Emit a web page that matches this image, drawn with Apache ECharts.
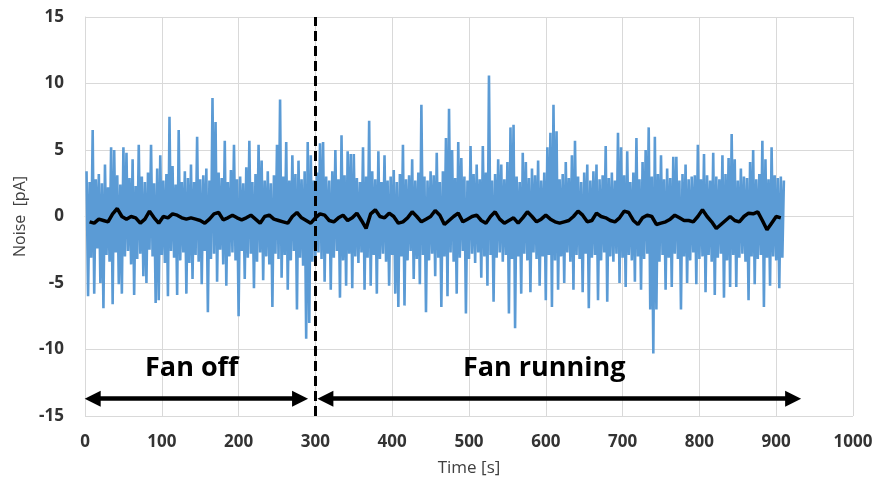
<!DOCTYPE html>
<html>
<head>
<meta charset="utf-8">
<script src="https://cdn.jsdelivr.net/npm/echarts@6/dist/echarts.min.js"></script>
<style>
  html, body { margin: 0; padding: 0; background: #ffffff; }
  #chart { width: 880px; height: 483px; }
</style>
</head>
<body>
<div id="chart"></div>
<script>
// Current noise record, one sample every 2 s starting at t = 2 s
const noiseStart = 2;   // s
const noiseStep = 2;    // s
const noise = [
  3.4, -6.0, 2.6, -3.1, 6.5, -5.8, 2.8, -2.4, 3.2, -5.0,
  2.5, -6.9, 3.9, -2.9, 2.2, -3.4, 5.2, -6.6, 5.0, -2.7,
  3.1, -5.1, 2.4, -5.8, 5.2, -3.0, 4.8, -2.6, 2.9, -3.6,
  4.3, -5.9, 2.3, -3.2, 5.4, -2.8, 3.0, -4.5, 2.6, -5.0,
  3.3, -2.5, 5.4, -3.0, 2.5, -6.5, 3.6, -6.3, 4.6, -2.9,
  2.7, -3.5, 3.2, -6.0, 7.5, -2.6, 3.8, -3.1, 2.4, -5.9,
  6.5, -3.3, 2.6, -2.7, 3.4, -5.8, 2.9, -3.5, 3.9, -4.7,
  2.6, -2.9, 6.0, -3.4, 2.8, -5.1, 3.1, -2.6, 3.6, -7.2,
  2.7, -3.2, 8.9, -2.8, 7.1, -4.9, 3.3, -2.5, 2.9, -3.6,
  5.7, -5.2, 2.6, -3.0, 3.5, -2.7, 5.4, -3.3, 2.8, -7.5,
  3.0, -2.6, 2.5, -4.7, 3.7, -3.1, 5.7, -2.8, 2.6, -5.4,
  3.2, -3.4, 5.4, -2.7, 4.2, -4.8, 2.7, -3.0, 3.4, -3.6,
  2.5, -6.8, 3.1, -2.8, 5.4, -3.2, 8.8, -4.6, 3.0, -2.9,
  5.6, -5.5, 2.7, -3.3, 4.6, -2.6, 3.2, -7.0, 4.2, -3.1,
  2.8, -3.7, 3.4, -9.2, 5.6, -8.0, 4.6, -3.4, 2.7, -3.0,
  3.3, -2.7, 5.5, -3.2, 5.6, -4.9, 3.0, -2.8, 2.7, -5.5,
  3.4, -3.1, 5.0, -2.6, 2.8, -6.1, 6.1, -3.3, 3.1, -5.2,
  4.9, -2.8, 4.7, -5.4, 4.7, -3.0, 2.9, -3.5, 2.6, -2.7,
  5.2, -5.5, 3.0, -3.1, 7.2, -5.2, 3.4, -2.9, 2.8, -5.8,
  4.9, -3.2, 2.6, -2.8, 4.6, -3.4, 2.7, -5.2, 3.0, -2.9,
  3.5, -5.8, 2.6, -6.8, 3.2, -3.0, 5.4, -6.7, 2.8, -3.3,
  3.1, -2.6, 4.3, -4.7, 2.7, -3.2, 3.3, -5.1, 8.4, -2.9,
  3.0, -7.2, 2.7, -3.3, 3.4, -2.8, 3.1, -4.5, 4.8, -3.1,
  2.6, -6.8, 3.4, -3.0, 5.9, -6.0, 8.1, -2.7, 5.0, -3.4,
  2.9, -5.8, 5.6, -3.1, 4.4, -2.6, 3.0, -7.3, 2.7, -3.2,
  5.3, -2.8, 3.2, -3.5, 3.9, -2.7, 2.8, -4.6, 5.3, -3.0,
  3.3, -5.2, 10.6, -2.9, 2.7, -6.4, 3.2, -3.1, 4.3, -2.7,
  3.9, -3.4, 2.8, -2.9, 4.1, -7.3, 6.7, -3.2, 6.9, -8.4,
  3.0, -3.0, 2.6, -5.8, 4.8, -2.8, 4.1, -3.3, 2.9, -5.7,
  3.6, -2.7, 3.1, -3.2, 4.2, -5.2, 2.7, -3.0, 3.3, -6.3,
  5.2, -2.9, 6.3, -6.8, 8.4, -3.3, 6.4, -5.5, 2.8, -3.0,
  3.2, -5.0, 4.1, -2.7, 2.9, -3.4, 4.6, -5.5, 5.7, -2.9,
  3.0, -3.2, 2.6, -5.7, 3.3, -2.8, 3.9, -6.9, 2.7, -3.1,
  3.4, -2.9, 3.9, -6.3, 2.8, -3.3, 3.1, -2.7, 5.3, -6.4,
  2.9, -3.0, 3.3, -3.4, 2.7, -2.8, 6.3, -5.0, 5.2, -3.1,
  3.1, -5.3, 4.9, -2.9, 2.6, -3.3, 3.3, -4.9, 5.9, -3.0,
  2.8, -5.5, 4.1, -3.2, 5.0, -2.8, 6.7, -7.0, 3.0, -10.3,
  6.0, -7.0, 3.2, -3.4, 4.6, -2.9, 2.8, -5.5, 3.6, -3.1,
  2.9, -5.3, 4.5, -2.8, 4.5, -3.2, 2.7, -7.0, 3.2, -3.0,
  3.9, -5.0, 2.8, -3.3, 3.0, -2.7, 3.1, -5.1, 5.4, -3.2,
  2.8, -3.0, 4.7, -5.7, 3.1, -2.9, 2.7, -3.4, 4.8, -5.9,
  3.0, -3.1, 2.8, -2.8, 4.6, -6.1, 3.2, -3.3, 4.4, -5.3,
  6.2, -2.9, 4.3, -5.3, 2.7, -3.1, 3.6, -2.8, 3.0, -3.4,
  2.9, -6.3, 4.1, -3.0, 5.0, -5.1, 2.8, -3.2, 3.2, -2.9,
  5.7, -6.8, 4.3, -3.1, 2.8, -5.2, 5.2, -3.0, 3.1, -3.3,
  2.9, -5.4, 3.0, -3.1, 2.7
];

// Running average of the same record, one value every 6 s starting at t = 6 s
const averageStart = 6;  // s
const averageStep = 6;   // s
const average = [
  -0.4, -0.5, -0.2, -0.3, -0.4, 0.2, 0.6, 0.0, -0.2, 0.0,
  -0.1, -0.5, -0.2, 0.4, -0.1, -0.5, 0.0, -0.1, 0.2, 0.1,
  -0.1, -0.2, -0.1, -0.2, -0.3, -0.5, -0.2, 0.2, 0.3, -0.25,
  -0.1, 0.1, -0.1, -0.25, -0.1, 0.1, -0.2, -0.5, 0.0, 0.1,
  -0.2, -0.3, -0.4, -0.5, 0.0, 0.3, -0.1, -0.3, -0.5, -0.1,
  0.2, 0.1, -0.3, -0.4, -0.1, 0.1, -0.3, -0.1, 0.25, -0.3,
  -0.9, 0.2, 0.5, 0.0, -0.1, 0.25, 0.0, -0.5, -0.4, -0.1,
  0.35, 0.0, -0.4, -0.2, 0.0, 0.45, 0.1, -0.6, -0.3, 0.0,
  0.25, -0.4, -0.2, 0.0, 0.1, -0.3, -0.5, 0.0, 0.35, -0.2,
  -0.5, -0.3, -0.1, -0.5, -0.1, 0.35, 0.0, -0.4, -0.2, 0.1,
  -0.2, -0.4, -0.5, -0.4, -0.3, 0.0, 0.4, 0.1, -0.4, -0.3,
  0.25, 0.0, -0.1, -0.3, -0.4, -0.1, 0.4, 0.3, -0.3, -0.6,
  -0.1, 0.1, 0.0, -0.6, -0.5, -0.4, -0.2, 0.1, -0.1, -0.3,
  -0.3, -0.4, 0.0, 0.5, 0.0, -0.4, -0.9, -0.6, -0.3, 0.0,
  -0.3, -0.4, 0.0, 0.25, 0.2, 0.35, -0.3, -1.0, -0.5, 0.0,
  -0.1
];

// Moment the fan is switched on
const fanSwitchTime = 300;  // s
const phaseNames = ['Fan off', 'Fan running'];

// Axis scales
const xMin = 0, xMax = 1000, xStep = 100;
const yMin = -15, yMax = 15, yStep = 5;

const noiseData = noise.map((v, i) => [noiseStart + i * noiseStep, v]);
const averageData = average.map((v, i) => [averageStart + i * averageStep, v]);

const fontFamily = '"Open Sans", "DejaVu Sans", sans-serif';
const gridColor = '#d9d9d9';
const labelColor = '#333333';
const nameColor = '#404040';

const chart = echarts.init(document.getElementById('chart'), null, { renderer: 'canvas' });

chart.setOption({
  animation: false,
  backgroundColor: '#ffffff',
  grid: { left: 85, right: 27, top: 17, bottom: 67, containLabel: false },
  xAxis: {
    type: 'value',
    min: xMin, max: xMax, interval: xStep,
    name: 'Time [s]',
    nameLocation: 'middle',
    nameGap: 44,
    nameTextStyle: { fontFamily, fontSize: 17, color: nameColor },
    axisLine: { show: true, lineStyle: { color: gridColor, width: 1 } },
    axisTick: { show: false },
    axisLabel: {
      fontFamily, fontSize: 17, fontWeight: 'bold', color: labelColor, margin: 18,
      formatter: v => String(v)
    },
    splitLine: { show: true, lineStyle: { color: gridColor, width: 1 } }
  },
  yAxis: {
    type: 'value',
    min: yMin, max: yMax, interval: yStep,
    name: 'Noise  [pA]',
    nameLocation: 'middle',
    nameGap: 56,
    nameRotate: 90,
    nameTextStyle: { fontFamily, fontSize: 16, color: nameColor },
    axisLine: { show: true, lineStyle: { color: gridColor, width: 1 } },
    axisTick: { show: false },
    axisLabel: {
      fontFamily, fontSize: 17, fontWeight: 'bold', color: labelColor, margin: 21,
      formatter: v => String(v)
    },
    splitLine: { show: true, lineStyle: { color: gridColor, width: 1 } }
  },
  series: [
    {
      name: 'Noise',
      type: 'line',
      data: noiseData,
      showSymbol: false,
      symbol: 'none',
      sampling: null,
      lineStyle: { color: '#5b9bd5', width: 2.6, join: 'miter' },
      z: 2,
      markLine: {
        silent: true,
        symbol: 'none',
        label: { show: false },
        lineStyle: { color: '#000000', width: 3, type: [10, 5] },
        data: [{ xAxis: fanSwitchTime }],
        z: 5
      }
    },
    {
      name: 'Average',
      type: 'line',
      data: averageData,
      showSymbol: false,
      symbol: 'none',
      smooth: false,
      lineStyle: { color: '#000000', width: 3.5 },
      z: 3,
      markLine: {
        silent: true,
        symbol: ['triangle', 'triangle'],
        symbolSize: 16,
        label: { show: false },
        lineStyle: { color: '#000000', width: 4.5, type: 'solid' },
        data: [
          [{ coord: [10, -13.7] }, { coord: [280, -13.7] }],
          [{ coord: [313, -13.7] }, { coord: [922, -13.7] }]
        ]
      },
      markPoint: {
        silent: true,
        symbol: 'circle',
        symbolSize: 1,
        itemStyle: { color: 'rgba(0,0,0,0)' },
        label: {
          show: true,
          position: 'inside',
          formatter: '{b}',
          fontFamily,
          fontSize: 27,
          fontWeight: 'bold',
          color: '#000000'
        },
        data: [
          { name: phaseNames[0], coord: [139, -11.45] },
          { name: phaseNames[1], coord: [598, -11.45] }
        ]
      }
    }
  ]
});
</script>
</body>
</html>
